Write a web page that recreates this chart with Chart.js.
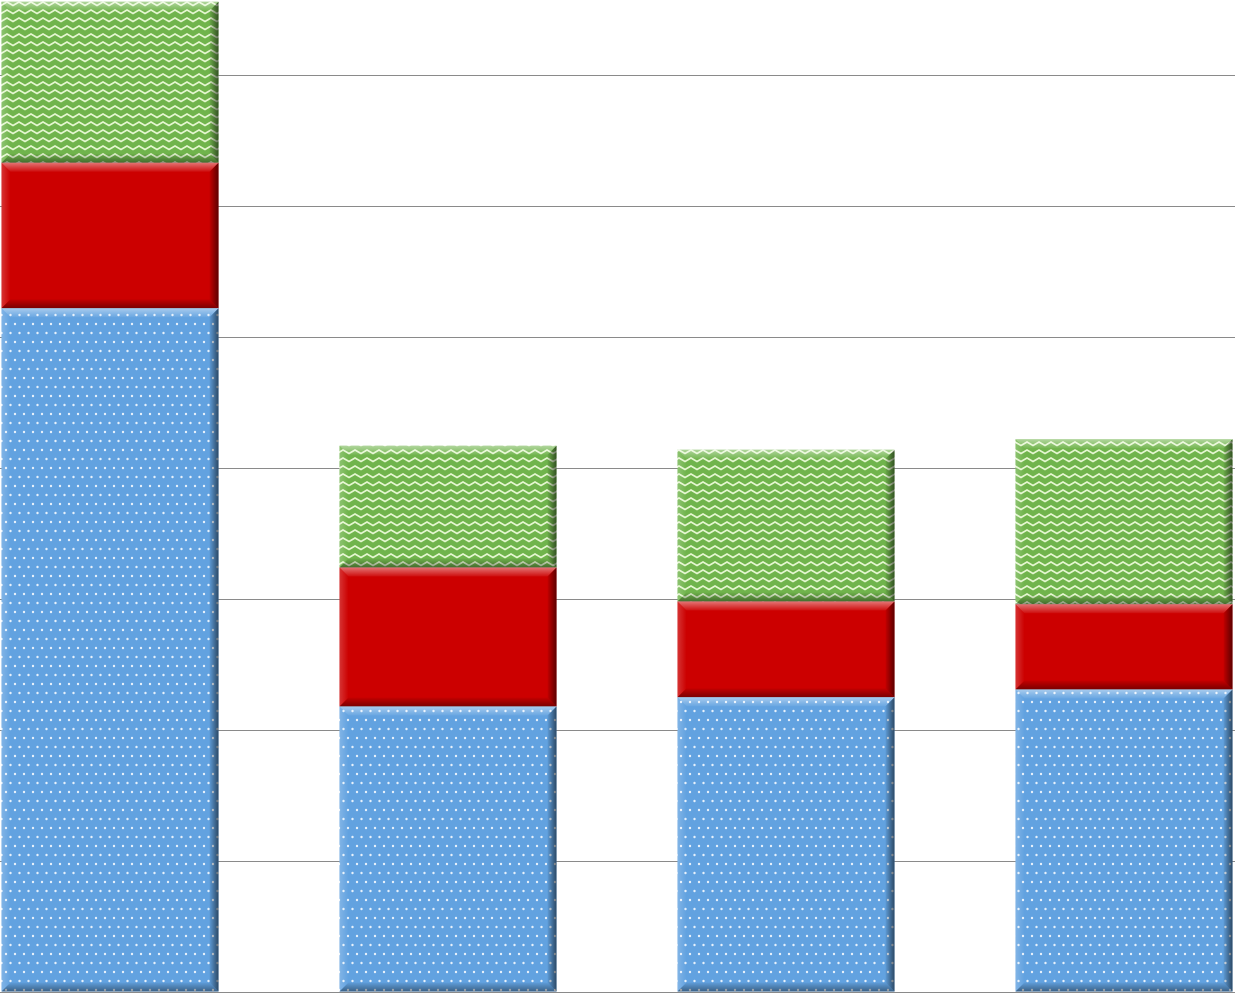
<!DOCTYPE html>
<html>
<head>
<meta charset="utf-8">
<script src="https://cdn.jsdelivr.net/npm/chart.js@4"></script>
<style>
  html, body { margin: 0; padding: 0; background: #fff; overflow: hidden; }
  #wrap { position: absolute; left: -59px; top: -56px; width: 1352px; height: 1050px; }
</style>
</head>
<body>
<div id="wrap"><canvas id="chart"></canvas></div>
<script>
// data (one gridline = 10)
const categories = ['A', 'B', 'C', 'D'];
const blueValues = [52.2, 21.8, 22.5, 23.1];
const redValues = [11.1, 10.6, 7.3, 6.5];
const greenValues = [12.3, 9.3, 11.6, 12.6];
const yTicks = [0, 10, 20, 30, 40, 50, 60, 70, 80];

function dotPattern() {
    const c = document.createElement('canvas');
    c.width = 18; c.height = 18;
    const g = c.getContext('2d');
    g.fillStyle = '#62a2e0';
    g.fillRect(0, 0, 18, 18);
    g.fillStyle = 'rgba(255,255,255,0.85)';
    [[2, 2], [11, 2], [6.5, 11], [15.5, 11]].forEach(p => {
        g.beginPath();
        g.arc(p[0], p[1], 1.2, 0, Math.PI * 2);
        g.fill();
    });
    return g.createPattern(c, 'repeat');
}

function zigzagPattern() {
    const c = document.createElement('canvas');
    c.width = 12; c.height = 8;
    const g = c.getContext('2d');
    g.fillStyle = '#70b44c';
    g.fillRect(0, 0, 12, 8);
    g.strokeStyle = 'rgba(235,250,215,0.95)';
    g.lineWidth = 1.7;
    g.beginPath();
    g.moveTo(-1, 6);
    g.lineTo(6, 2);
    g.lineTo(13, 6);
    g.stroke();
    return g.createPattern(c, 'repeat');
}

// soft bevel on each bar segment
const bevelPlugin = {
    id: 'bevel',
    afterDatasetsDraw(chart) {
        const ctx = chart.ctx;
        const d = 9;
        chart.data.datasets.forEach((ds, i) => {
            chart.getDatasetMeta(i).data.forEach(bar => {
                const l = bar.x - bar.width / 2, r = bar.x + bar.width / 2;
                const t = Math.min(bar.y, bar.base), b = Math.max(bar.y, bar.base);
                const quad = (pts, x0, y0, x1, y1, c0, c1) => {
                    const gr = ctx.createLinearGradient(x0, y0, x1, y1);
                    gr.addColorStop(0, c0);
                    gr.addColorStop(1, c1);
                    ctx.beginPath();
                    ctx.moveTo(pts[0][0], pts[0][1]);
                    for (let k = 1; k < pts.length; k++) ctx.lineTo(pts[k][0], pts[k][1]);
                    ctx.closePath();
                    ctx.fillStyle = gr;
                    ctx.fill();
                };
                ctx.save();
                quad([[l, t], [r, t], [r - d, t + d], [l + d, t + d]], 0, t, 0, t + d,
                    'rgba(255,255,255,0.45)', 'rgba(255,255,255,0.05)');
                quad([[l, t], [l + d, t + d], [l + d, b - d], [l, b]], l, 0, l + d, 0,
                    'rgba(255,255,255,0.2)', 'rgba(255,255,255,0)');
                quad([[r, t], [r, b], [r - d, b - d], [r - d, t + d]], r, 0, r - d, 0,
                    'rgba(0,0,0,0.55)', 'rgba(0,0,0,0.05)');
                quad([[l, b], [l + d, b - d], [r - d, b - d], [r, b]], 0, b, 0, b - d,
                    'rgba(0,0,0,0.4)', 'rgba(0,0,0,0.03)');
                ctx.restore();
            });
        });
    }
};

new Chart(document.getElementById('chart'), {
    type: 'bar',
    data: {
        labels: categories,
        datasets: [
            { label: 'Blue', data: blueValues, backgroundColor: dotPattern() },
            { label: 'Red', data: redValues, backgroundColor: '#cc0000' },
            { label: 'Green', data: greenValues, backgroundColor: zigzagPattern() }
        ]
    },
    options: {
        responsive: true,
        maintainAspectRatio: false,
        animation: false,
        layout: { padding: { left: 0, right: 0, top: 0, bottom: 2 } },
        datasets: {
            bar: { categoryPercentage: 1, barPercentage: 0.642, borderWidth: 0 }
        },
        plugins: { legend: { display: false }, tooltip: { enabled: false } },
        scales: {
            x: { stacked: true, display: false },
            y: {
                stacked: true,
                min: yTicks[0],
                max: yTicks[yTicks.length - 1],
                afterBuildTicks: axis => { axis.ticks = yTicks.map(v => ({ value: v })); },
                ticks: { display: false },
                border: { display: false },
                grid: { color: '#8a8a8a', lineWidth: 1, drawTicks: false }
            }
        }
    },
    plugins: [bevelPlugin]
});
</script>
</body>
</html>
